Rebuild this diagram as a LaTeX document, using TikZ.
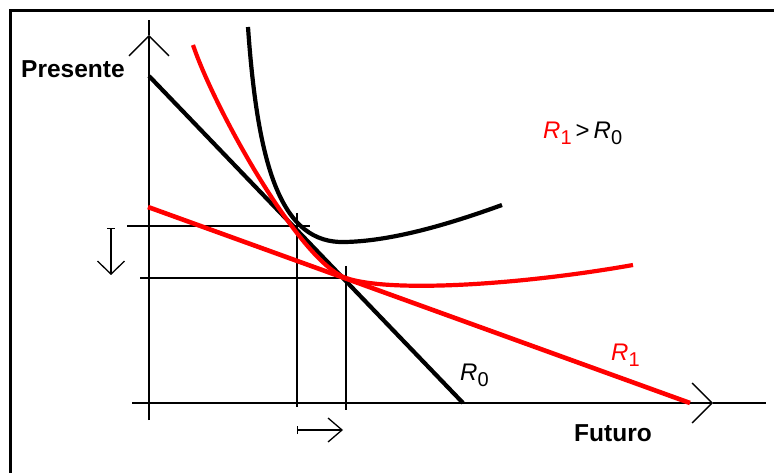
\documentclass[tikz,border=0pt]{standalone}
\usepackage{fontspec}
\setmainfont{Liberation Sans}
\usetikzlibrary{arrows.meta}
\newcommand{\Rlab}[1]{\textit{R}\raisebox{-6pt}{\fontsize{20}{20}\selectfont #1}}

\begin{document}
\begin{tikzpicture}[x=1pt,y=-1pt,
  thinline/.style={line width=1.3pt},
  curveline/.style={line width=4.2pt},
  axistip/.style={-{Straight Barb[length=20pt,width=40pt,line width=1.3pt]}},
  txt/.style={inner sep=0pt,anchor=base west,font=\fontsize{24}{28}\selectfont},
  axislabel/.style={txt,font=\bfseries\fontsize{24.5}{28}\selectfont}]
\useasboundingbox (0,0) rectangle (774,473);
\draw[line width=3pt] (10,473) -- (10,11) -- (774,11);
\draw[thinline,axistip] (149,420) -- (149,35);
\draw[thinline] (149,35) -- (149,20);
\draw[thinline,axistip] (132,403) -- (713,403);
\draw[thinline] (713,403) -- (766,403);
\coordinate (old) at (297,226);
\coordinate (new) at (346,278);
\draw[thinline] (127,226) -- (old) -- (310,226);
\draw[thinline] (297,213) -- (old) -- (297,407);
\draw[thinline] (140,278) -- (new) -- (350,278);
\draw[thinline] (346,266) -- (new) -- (346,410);
\draw[thinline,{Bar[width=8pt]}-{Straight Barb[length=13pt,width=27pt]}] (111,228) -- (111,275);
\draw[thinline,{Bar[width=8pt]}-{Straight Barb[length=14pt,width=24pt]}] (297,430) -- (343,430);
\draw[curveline] (149,76) -- (463,403);
\draw[curveline] (248,27) .. controls (258,170) and (282,244) .. (345,242)
  .. controls (395,241) and (455,222) .. (502,205);
\draw[curveline,red] (193,45) .. controls (215,110) and (300,262) .. (new)
  .. controls (390,293) and (520,285) .. (633,265);
\draw[curveline,red,line width=4.6pt] (148,207) -- (690,403);
\node[axislabel] (presente) at (21,78) {Presente};
\node[axislabel] (futuro) at (574,441) {Futuro};
\node[txt] (rzero) at (460,380) {\Rlab{0}};
\node[txt,red] (rone) at (611,360) {\Rlab{1}};
\node[txt] (compare) at (543,139) {\textcolor{red}{\Rlab{1}}\,>\,\Rlab{0}};
\end{tikzpicture}
\end{document}
